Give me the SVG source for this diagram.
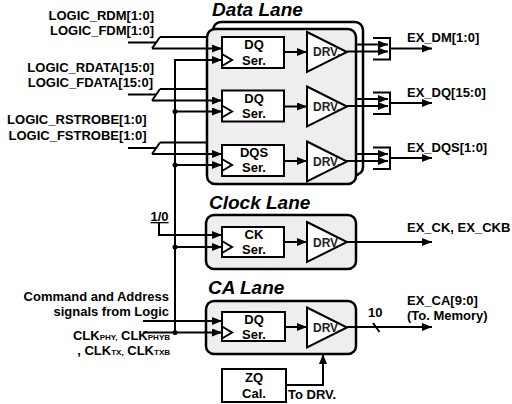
<svg xmlns="http://www.w3.org/2000/svg" width="512" height="404" viewBox="0 0 512 404">
<defs>
<marker id="ah" markerUnits="userSpaceOnUse" markerWidth="10" markerHeight="8" refX="10" refY="4" orient="auto">
<path d="M0,0 L10,4 L0,8 z" fill="#000"/>
</marker>
<style>
.lane{fill:#eeeeee;stroke:#000;stroke-width:2.5}
.back{fill:#ffffff;stroke:#000;stroke-width:2.5}
.box{fill:#fff;stroke:#000;stroke-width:2}
.drv{fill:#fff;stroke:#000;stroke-width:2}
.w{fill:none;stroke:#000;stroke-width:2}
.a{fill:none;stroke:#000;stroke-width:2;marker-end:url(#ah)}
.t{font-family:"Liberation Sans",Arial,sans-serif;font-weight:bold;font-size:13px;fill:#000}
.c{text-anchor:middle}
.e{text-anchor:end}
.ti{font-family:"Liberation Sans",Arial,sans-serif;font-weight:bold;font-style:italic;font-size:19px;fill:#000}
.d{font-family:"Liberation Sans",Arial,sans-serif;font-weight:bold;font-size:12px;fill:#222}
.sub{font-size:8px}
</style>
</defs>
<rect width="512" height="404" fill="#fff"/>

<g id="lanes">
<g id="data-lane">
<rect class="back" x="213" y="22" width="150" height="153" rx="8"/>
<rect class="lane" x="207" y="29" width="149" height="155" rx="8"/>
<text class="ti" x="212" y="16">Data Lane</text>
</g>
<g id="clock-lane">
<rect class="lane" x="206" y="215" width="150" height="54" rx="8"/>
<text class="ti" x="209" y="209">Clock Lane</text>
</g>
<g id="ca-lane">
<rect class="lane" x="206" y="301" width="150" height="53" rx="8"/>
<text class="ti" x="208" y="294">CA Lane</text>
</g>
</g>

<g id="connectors">
<path class="w" d="M128,42.5 H156 M160,37 H207 M152,48.5 L160,37"/>
<path class="a" d="M152,48.5 H222"/>
<path class="w" d="M128,94.5 H156 M160,89 H207 M152,100.5 L160,89"/>
<path class="a" d="M152,100.5 H222"/>
<path class="w" d="M128,148 H156 M160,142.5 H207 M152,154 L160,142.5"/>
<path class="a" d="M152,154 H222"/>
<path class="a" d="M175,332.5 V60 H222"/>
<path class="a" d="M175,111.5 H222"/>
<path class="a" d="M175,165 H222"/>
<path class="a" d="M175,247 H222"/>
<path class="a" d="M143,332.5 H222"/>
<path class="a" d="M143,321 H222"/>
<path class="a" d="M159,223 V235 H222"/>
<circle cx="175" cy="111.5" r="2.5"/>
<circle cx="175" cy="165" r="2.5"/>
<circle cx="175" cy="247" r="2.5"/>
<circle cx="175" cy="332.5" r="2.5"/>
<path class="a" d="M284,52 H307"/>
<path class="a" d="M284,106.5 H307"/>
<path class="a" d="M284,161 H307"/>
<path class="a" d="M284,242 H307"/>
<path class="a" d="M285,327 H307"/>
<path class="a" d="M347,51.5 H388"/>
<path class="a" d="M356,44.5 H388"/>
<path class="w" d="M373,38 H390 V59.5 H373"/>
<path class="a" d="M390,48.5 H432"/>
<path class="a" d="M347,106 H388"/>
<path class="a" d="M356,99 H388"/>
<path class="w" d="M373,92.5 H390 V114 H373"/>
<path class="a" d="M390,103 H432"/>
<path class="a" d="M347,161 H388"/>
<path class="a" d="M356,154 H388"/>
<path class="w" d="M373,147.5 H390 V169 H373"/>
<path class="a" d="M390,158 H432"/>
<path class="a" d="M347,242 H432"/>
<path class="a" d="M347,327 H432"/>
<path class="w" d="M373,323 L379.5,332"/>
<path class="a" d="M286,385 H323 V354"/>
</g>

<g id="dm-ser">
<rect class="box" x="222" y="37" width="62" height="31"/>
<path class="w" d="M222,54 L232,60 L222,66"/>
<text class="t c" x="254" y="49">DQ</text>
<text class="t c" x="254" y="65">Ser.</text>
</g>
<g id="dm-drv">
<path class="drv" d="M307,32 L347,52 L307,72 z"/>
<text class="d" x="313" y="56">DRV.</text>
</g>
<g id="dq-ser">
<rect class="box" x="222" y="90.5" width="62" height="31"/>
<path class="w" d="M222,105.5 L232,111.5 L222,117.5"/>
<text class="t c" x="254" y="102.5">DQ</text>
<text class="t c" x="254" y="118">Ser.</text>
</g>
<g id="dq-drv">
<path class="drv" d="M307,86.5 L347,106.5 L307,126.5 z"/>
<text class="d" x="313" y="111">DRV.</text>
</g>
<g id="dqs-ser">
<rect class="box" x="222" y="145" width="62" height="31"/>
<path class="w" d="M222,159 L232,165 L222,171"/>
<text class="t c" x="254" y="157">DQS</text>
<text class="t c" x="254" y="172">Ser.</text>
</g>
<g id="dqs-drv">
<path class="drv" d="M307,141.5 L347,161.5 L307,181.5 z"/>
<text class="d" x="313" y="166">DRV.</text>
</g>
<g id="ck-ser">
<rect class="box" x="222" y="227" width="62" height="30"/>
<path class="w" d="M222,241 L232,247 L222,253"/>
<text class="t c" x="254" y="239">CK</text>
<text class="t c" x="254" y="254">Ser.</text>
</g>
<g id="ck-drv">
<path class="drv" d="M307,222 L347,242 L307,262 z"/>
<text class="d" x="313" y="246.5">DRV.</text>
</g>
<g id="ca-ser">
<rect class="box" x="222" y="312" width="63" height="29"/>
<path class="w" d="M222,326.5 L232,332.5 L222,338.5"/>
<text class="t c" x="254" y="323.5">DQ</text>
<text class="t c" x="254" y="339">Ser.</text>
</g>
<g id="ca-drv">
<path class="drv" d="M307,307.5 L347,327.5 L307,347.5 z"/>
<text class="d" x="313" y="332">DRV.</text>
</g>
<g id="zq-cal">
<rect class="box" x="222" y="369" width="64" height="33"/>
<text class="t c" x="254" y="382">ZQ</text>
<text class="t c" x="254" y="398">Cal.</text>
</g>

<g id="labels">
<text class="t e" x="154" y="20">LOGIC_RDM[1:0]</text>
<text class="t e" x="154" y="35">LOGIC_FDM[1:0]</text>
<text class="t e" x="154" y="71.5">LOGIC_RDATA[15:0]</text>
<text class="t e" x="153" y="87">LOGIC_FDATA[15:0]</text>
<text class="t e" x="146.5" y="124">LOGIC_RSTROBE[1:0]</text>
<text class="t e" x="146.5" y="140">LOGIC_FSTROBE[1:0]</text>
<text class="t" x="150.5" y="221" font-size="12" text-decoration="underline">1/0</text>
<text class="t e" x="169" y="300.5">Command and Address</text>
<text class="t e" x="169" y="315.5">signals from Logic</text>
<text class="t e" x="170" y="340">CLK<tspan class="sub">PHY,</tspan> CLK<tspan class="sub">PHYB</tspan></text>
<text class="t e" x="170" y="354.5">, CLK<tspan class="sub">TX,</tspan> CLK<tspan class="sub">TXB</tspan></text>
<text class="t" x="407" y="41.5">EX_DM[1:0]</text>
<text class="t" x="407" y="96.5">EX_DQ[15:0]</text>
<text class="t" x="407" y="151.5">EX_DQS[1:0]</text>
<text class="t" x="407" y="231.5">EX_CK, EX_CKB</text>
<text class="t" x="407" y="305">EX_CA[9:0]</text>
<text class="t" x="407" y="320">(To. Memory)</text>
<text class="t" x="368" y="316.5">10</text>
<text class="t" x="288" y="399">To DRV.</text>
</g>
</svg>
